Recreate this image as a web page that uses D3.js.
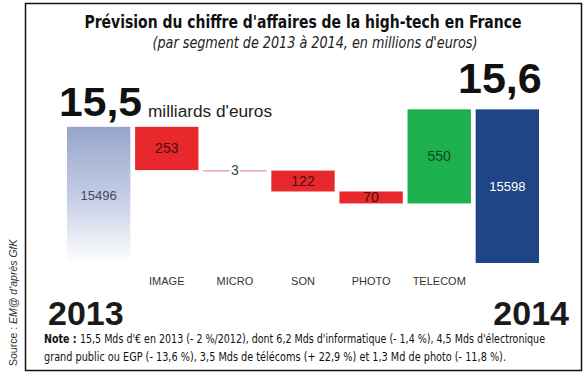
<!DOCTYPE html>
<html>
<head>
<meta charset="utf-8">
<script src="https://cdn.jsdelivr.net/npm/d3@7"></script>
<style>
  body { margin: 0; background: #fff; }
  svg { display: block; }
  text { font-family: "Liberation Sans", Arial, sans-serif; }
  .din { font-family: "DejaVu Sans Condensed", "Roboto", sans-serif; }
</style>
</head>
<body>
<svg width="588" height="376"></svg>
<script>
// data
const steps = ["2013", "IMAGE", "MICRO", "SON", "PHOTO", "TELECOM", "2014"]
const changes = [15496, -253, -3, -122, -70, 550, 15598]
const barLabels = ["15496", "253", "3", "122", "70", "550", "15598"]
const axisLabels = ["", "IMAGE", "MICRO", "SON", "PHOTO", "TELECOM", ""]
const yAxisBase = 14700

const svg = d3.select("svg")

// build waterfall
let running = 0
const rows = steps.map((s, i) => {
  let lo, hi, kind
  if (i == 0) { lo = yAxisBase; hi = changes[i]; running = changes[i]; kind = "start" }
  else if (i == steps.length - 1) { lo = yAxisBase; hi = changes[i]; kind = "end" }
  else {
    const next = running + changes[i]
    lo = Math.min(running, next); hi = Math.max(running, next)
    kind = changes[i] < 0 ? "down" : "up"
    running = next
  }
  return {step: s, lo: lo, hi: hi, kind: kind, label: barLabels[i], cat: axisLabels[i], v: changes[i]}
})

const x = d3.scaleBand()
  .domain(steps)
  .range([67, 539])
  .paddingInner(0.07)
  .paddingOuter(0)

const y = d3.scaleLinear()
  .domain([yAxisBase, 15600])
  .range([263, 109])

// frame
svg.append("rect")
  .attr("x", 25.5).attr("y", 3.5)
  .attr("width", 556).attr("height", 367)
  .attr("fill", "none")
  .attr("stroke", "#111")
  .attr("stroke-width", 1.5)

// gradient for the 2013 bar
const defs = svg.append("defs")
const grad = defs.append("linearGradient")
  .attr("id", "fade").attr("x1", 0).attr("x2", 0).attr("y1", 0).attr("y2", 1)
grad.append("stop").attr("offset", "0%").attr("stop-color", "#97a5cc")
grad.append("stop").attr("offset", "55%").attr("stop-color", "#c9d0e6")
grad.append("stop").attr("offset", "100%").attr("stop-color", "#ffffff")

const fillFor = {start: "url(#fade)", down: "#e8282b", up: "#1db04e", end: "#1f4586"}
const textFor = {start: "#404a66", down: "#4a0c0c", up: "#0d4a22", end: "#ffffff"}

const bars = svg.selectAll("g.bar")
  .data(rows)
  .enter()
  .append("g")
  .attr("class", "bar")

bars.append("rect")
  .attr("x", d => x(d.step))
  .attr("width", x.bandwidth())
  .attr("y", d => y(d.hi))
  .attr("height", d => Math.max(1.5, y(d.lo) - y(d.hi)))
  .attr("fill", d => Math.abs(d.v) < 10 ? "#eaa3a5" : fillFor[d.kind])

// value labels
bars.append("text")
  .attr("x", d => x(d.step) + x.bandwidth() / 2)
  .attr("y", d => (y(d.lo) + y(d.hi)) / 2 + 5)
  .attr("text-anchor", "middle")
  .attr("font-size", d => d.kind == "start" || d.kind == "end" ? 13 : 14)
  .attr("fill", d => Math.abs(d.v) < 10 ? "#444" : textFor[d.kind])
  .attr("stroke", d => Math.abs(d.v) < 10 ? "#fff" : "none")
  .attr("stroke-width", 4)
  .attr("paint-order", "stroke")
  .text(d => d.label)

// category labels
bars.append("text")
  .attr("x", d => x(d.step) + x.bandwidth() / 2)
  .attr("y", 285)
  .attr("text-anchor", "middle")
  .attr("font-size", 11)
  .attr("fill", "#333")
  .text(d => d.cat)

// titles
svg.append("text")
  .attr("class", "din")
  .attr("x", 303).attr("y", 28)
  .attr("text-anchor", "middle")
  .attr("font-size", 17)
  .attr("font-weight", "bold")
  .attr("fill", "#111")
  .attr("textLength", 437).attr("lengthAdjust", "spacingAndGlyphs")
  .text("Prévision du chiffre d'affaires de la high-tech en France")

svg.append("text")
  .attr("class", "din")
  .attr("x", 315).attr("y", 48)
  .attr("text-anchor", "middle")
  .attr("font-size", 15)
  .attr("font-style", "italic")
  .attr("fill", "#222")
  .attr("textLength", 325).attr("lengthAdjust", "spacingAndGlyphs")
  .text("(par segment de 2013 à 2014, en millions d'euros)")

// big totals
svg.append("text")
  .attr("x", 59).attr("y", 116)
  .attr("font-size", 41).attr("font-weight", "bold").attr("fill", "#111")
  .attr("textLength", 83).attr("lengthAdjust", "spacingAndGlyphs")
  .text("15,5")

svg.append("text")
  .attr("x", 148).attr("y", 117)
  .attr("font-size", 16).attr("fill", "#222")
  .attr("textLength", 124).attr("lengthAdjust", "spacingAndGlyphs")
  .text("milliards d'euros")

svg.append("text")
  .attr("x", 458).attr("y", 93)
  .attr("font-size", 43).attr("font-weight", "bold").attr("fill", "#111")
  .text("15,6")

svg.append("text")
  .attr("x", 48).attr("y", 325)
  .attr("font-size", 34).attr("font-weight", "bold").attr("fill", "#1a1a1a")
  .text("2013")

svg.append("text")
  .attr("x", 569).attr("y", 325)
  .attr("text-anchor", "end")
  .attr("font-size", 34).attr("font-weight", "bold").attr("fill", "#1a1a1a")
  .text("2014")

// note
const note1 = svg.append("text")
  .attr("class", "din")
  .attr("x", 44).attr("y", 343)
  .attr("font-size", 11.5).attr("fill", "#111")
  .attr("textLength", 501).attr("lengthAdjust", "spacingAndGlyphs")
note1.append("tspan").attr("font-weight", "bold").text("Note : ")
note1.append("tspan").text("15,5 Mds d'€ en 2013 (- 2 %/2012), dont 6,2 Mds d'informatique (- 1,4 %), 4,5 Mds d'électronique")

svg.append("text")
  .attr("class", "din")
  .attr("x", 44).attr("y", 361)
  .attr("font-size", 11.5).attr("fill", "#111")
  .attr("textLength", 462).attr("lengthAdjust", "spacingAndGlyphs")
  .text("grand public ou EGP (- 13,6 %), 3,5 Mds de télécoms (+ 22,9 %) et 1,3 Md de photo (- 11,8 %).")

// source, rotated
const src = svg.append("text")
  .attr("transform", "translate(17,366) rotate(-90)")
  .attr("font-size", 10.5).attr("fill", "#333")
src.append("tspan").text("Source : ")
src.append("tspan").attr("font-style", "italic").text("EM@ d'après GfK")
</script>
</body>
</html>
